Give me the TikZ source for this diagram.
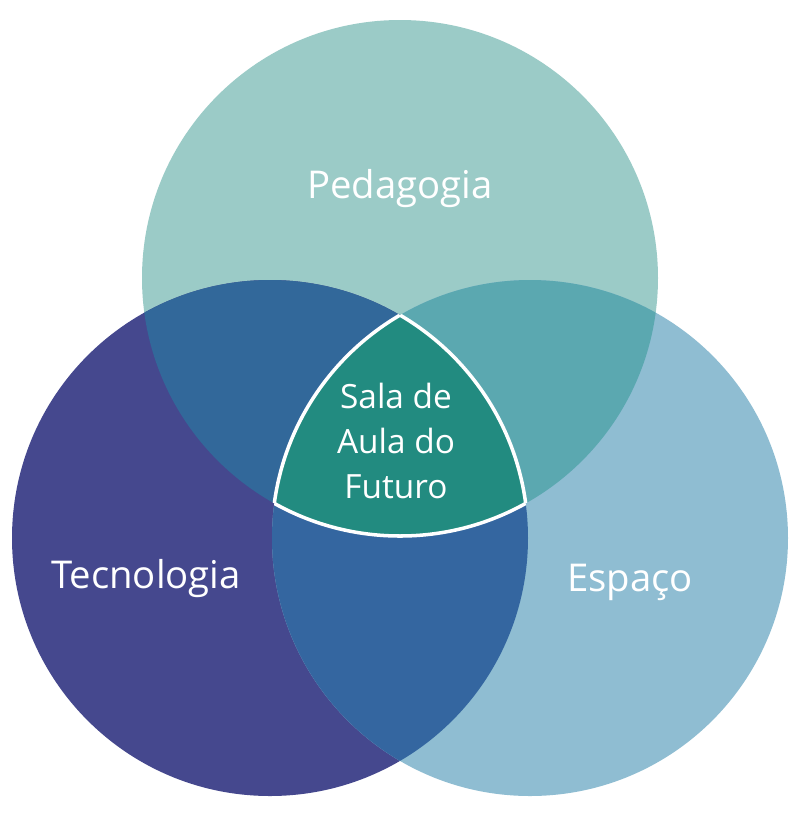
\documentclass[tikz,border=0pt]{standalone}
\usepackage{fontspec}
\setmainfont{Open Sans}
\usepackage{xcolor}
\usetikzlibrary{positioning}

\definecolor{pedagogia}{HTML}{9BCBC7}
\definecolor{tecnologia}{HTML}{45488E}
\definecolor{espaco}{HTML}{8FBDD2}
\definecolor{pedtec}{HTML}{32689A}
\definecolor{pedesp}{HTML}{5BA8B0}
\definecolor{tecesp}{HTML}{3466A0}
\definecolor{sala}{HTML}{228B80}

\begin{document}
\begin{tikzpicture}[x=0.02cm, y=-0.02cm,
    rotulo/.style={text=white, font=\fontsize{21.8}{26}\selectfont},
    centro/.style={text=white, align=center, font=\fontsize{19}{25.5}\selectfont}]

    \useasboundingbox (0,0) rectangle (800,826);

    % centros dos circulos
    \coordinate (ped) at (400,278);
    \coordinate (tec) at (270,538);
    \coordinate (esp) at (530,538);
    \def\raio{258}

    % circulos
    \fill [pedagogia] (ped) circle (\raio);
    \fill [tecnologia] (tec) circle (\raio);
    \fill [espaco] (esp) circle (\raio);

    % intersecoes
    \begin{scope}
        \clip (ped) circle (\raio);
        \fill [pedtec] (tec) circle (\raio);
        \fill [pedesp] (esp) circle (\raio);
    \end{scope}
    \begin{scope}
        \clip (tec) circle (\raio);
        \fill [tecesp] (esp) circle (\raio);
    \end{scope}
    \begin{scope}
        \clip (ped) circle (\raio);
        \clip (tec) circle (\raio);
        \clip (esp) circle (\raio);
        \fill [sala] (ped) circle (\raio);
    \end{scope}

    % contorno branco
    \begin{scope}
        \clip (ped) circle (\raio);
        \clip (tec) circle (\raio);
        \draw [white, line width=2pt] (esp) circle (\raio);
    \end{scope}
    \begin{scope}
        \clip (ped) circle (\raio);
        \clip (esp) circle (\raio);
        \draw [white, line width=2pt] (tec) circle (\raio);
    \end{scope}
    \begin{scope}
        \clip (tec) circle (\raio);
        \clip (esp) circle (\raio);
        \draw [white, line width=2pt] (ped) circle (\raio);
    \end{scope}

    % textos
    \node [rotulo] (pedagogia) at (400,189) {Pedagogia};
    \node [rotulo] (tecnologia) at (146,579) {Tecnologia};
    \node [rotulo] (espaco) at (630,582) {Espaço};
    \node [centro] (salaaula) at (396,441) {Sala de\\Aula do\\Futuro};
\end{tikzpicture}
\end{document}
